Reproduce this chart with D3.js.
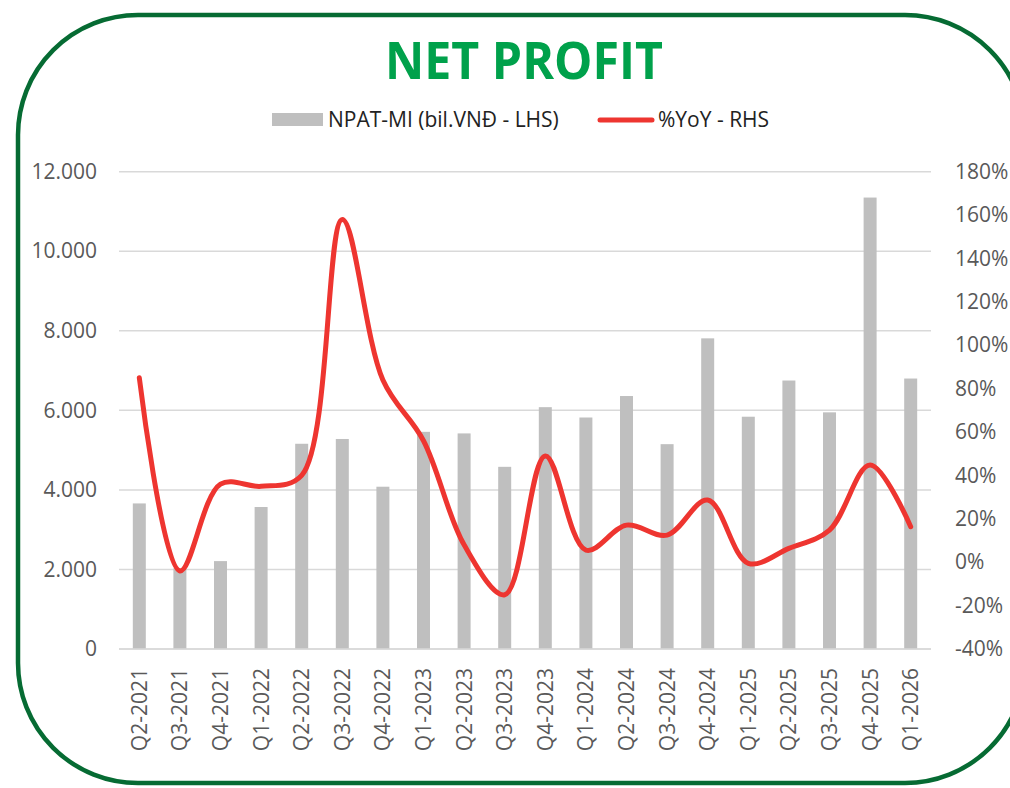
<!DOCTYPE html>
<html>
<head>
<meta charset="utf-8">
<script src="https://cdn.jsdelivr.net/npm/d3@7"></script>
<style>
  html, body { margin: 0; padding: 0; background: #ffffff; }
  svg { display: block; }
  text { font-family: "Open Sans", "Noto Sans", sans-serif; }
</style>
</head>
<body>
<div id="chart"></div>
<script>
// ---------- data ----------
const categories = ["Q2-2021","Q3-2021","Q4-2021","Q1-2022","Q2-2022","Q3-2022","Q4-2022",
  "Q1-2023","Q2-2023","Q3-2023","Q4-2023","Q1-2024","Q2-2024","Q3-2024","Q4-2024",
  "Q1-2025","Q2-2025","Q3-2025","Q4-2025","Q1-2026"];
const npatValues = [3660, 2030, 2210, 3570, 5160, 5280, 4080, 5460, 5420, 4580, 6080,
  5820, 6360, 5150, 7810, 5840, 6750, 5950, 11350, 6800];
const yoyValues = [0.85, -0.04, 0.36, 0.35, 0.40, 1.58, 0.84, 0.56, 0.08, -0.15, 0.49,
  0.056, 0.171, 0.125, 0.287, -0.005, 0.064, 0.148, 0.448, 0.164];
const leftTicks = [0, 2000, 4000, 6000, 8000, 10000, 12000];
const leftTickLabels = ["0", "2.000", "4.000", "6.000", "8.000", "10.000", "12.000"];
const rightTicks = [-0.4, -0.2, 0, 0.2, 0.4, 0.6, 0.8, 1.0, 1.2, 1.4, 1.6, 1.8];
const rightTickLabels = ["-40%", "-20%", "0%", "20%", "40%", "60%", "80%", "100%", "120%", "140%", "160%", "180%"];
const titleText = "NET PROFIT";
const legendBarLabel = "NPAT-MI (bil.VNĐ - LHS)";
const legendLineLabel = "%YoY - RHS";

// ---------- layout ----------
const W = 1010, H = 788;
const plot = { left: 119, right: 931, top: 171.7, bottom: 649 };

const svg = d3.select("#chart").append("svg")
  .attr("width", W).attr("height", H);

// border
svg.append("rect")
  .attr("x", 18).attr("y", 15)
  .attr("width", 1007).attr("height", 768)
  .attr("rx", 120).attr("ry", 120)
  .attr("fill", "none")
  .attr("stroke", "#066B33")
  .attr("stroke-width", 4.5);

// title
svg.append("text")
  .attr("x", 524).attr("y", 79)
  .attr("text-anchor", "middle")
  .attr("font-size", 52)
  .attr("font-weight", 700)
  .attr("fill", "#00A14B")
  .attr("textLength", 278)
  .attr("lengthAdjust", "spacingAndGlyphs")
  .text(titleText);

// scales
const x = d3.scaleBand().domain(categories)
  .range([plot.left, plot.right]).paddingInner(0.68).paddingOuter(0.34);
const yL = d3.scaleLinear().domain([0, 12000]).range([plot.bottom, plot.top]);
const yR = d3.scaleLinear().domain([-0.4, 1.8]).range([plot.bottom, plot.top]);

// gridlines
svg.append("g").selectAll("line").data(leftTicks).join("line")
  .attr("x1", plot.left).attr("x2", plot.right)
  .attr("y1", d => yL(d)).attr("y2", d => yL(d))
  .attr("stroke", "#D9D9D9").attr("stroke-width", 1.5);

// bars
svg.append("g").selectAll("rect").data(npatValues).join("rect")
  .attr("x", (d, i) => x(categories[i]))
  .attr("width", x.bandwidth())
  .attr("y", d => yL(d))
  .attr("height", d => yL(0) - yL(d))
  .attr("fill", "#BFBFBF");

// baseline
svg.append("line")
  .attr("x1", plot.left).attr("x2", plot.right)
  .attr("y1", yL(0)).attr("y2", yL(0))
  .attr("stroke", "#D9D9D9").attr("stroke-width", 1.5);

// line
const line = d3.line()
  .x((d, i) => x(categories[i]) + x.bandwidth() / 2)
  .y(d => yR(d))
  .curve(d3.curveCatmullRom.alpha(0.5));
svg.append("path")
  .datum(yoyValues)
  .attr("d", line)
  .attr("fill", "none")
  .attr("stroke", "#EE3530")
  .attr("stroke-width", 5)
  .attr("stroke-linecap", "round")
  .attr("stroke-linejoin", "round");

// axes
const axisColor = "#595959";
const gL = svg.append("g").attr("transform", `translate(${plot.left},0)`)
  .call(d3.axisLeft(yL).tickValues(leftTicks)
    .tickFormat((d, i) => leftTickLabels[i]).tickSize(0).tickPadding(22));
const gR = svg.append("g").attr("transform", `translate(${plot.right},0)`)
  .call(d3.axisRight(yR).tickValues(rightTicks)
    .tickFormat((d, i) => rightTickLabels[i]).tickSize(0).tickPadding(24));
const gB = svg.append("g").attr("transform", `translate(0,${plot.bottom})`)
  .call(d3.axisBottom(x).tickSize(0));
[gL, gR, gB].forEach(g => {
  g.select(".domain").remove();
  g.selectAll("text")
    .attr("font-family", "'Open Sans', 'Noto Sans', sans-serif")
    .attr("font-size", 21)
    .attr("fill", axisColor);
});
gB.selectAll("text")
  .attr("transform", "rotate(-90)")
  .attr("x", -19).attr("y", 0).attr("dy", "0.36em")
  .attr("text-anchor", "end");

// legend
const lg = svg.append("g");
lg.append("rect")
  .attr("x", 272).attr("y", 113).attr("width", 51).attr("height", 13)
  .attr("fill", "#BFBFBF");
lg.append("text")
  .attr("x", 328).attr("y", 120).attr("dy", "0.35em")
  .attr("font-size", 21).attr("fill", "#222222")
  .text(legendBarLabel);
lg.append("line")
  .attr("x1", 600).attr("x2", 652).attr("y1", 120).attr("y2", 120)
  .attr("stroke", "#EE3530").attr("stroke-width", 5).attr("stroke-linecap", "round");
lg.append("text")
  .attr("x", 658).attr("y", 120).attr("dy", "0.35em")
  .attr("font-size", 21).attr("fill", "#222222")
  .text(legendLineLabel);
</script>
</body>
</html>
